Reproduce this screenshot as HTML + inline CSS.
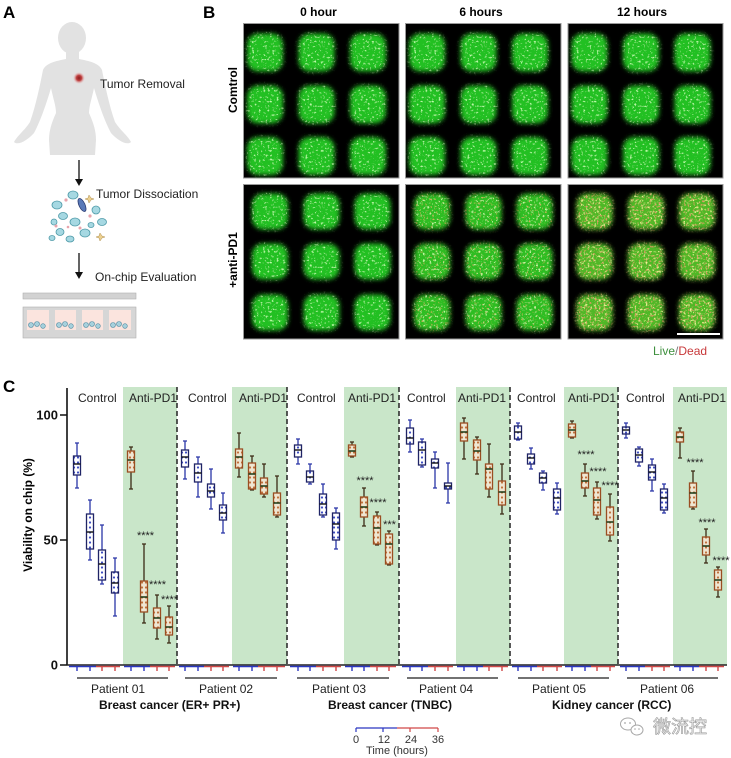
<!DOCTYPE html>
<html><head><meta charset="utf-8">
<style>
html,body{margin:0;padding:0;background:#fff;}
svg{display:block;}
.wc{stroke:#2a36a8;stroke-width:1.3;fill:none}
.bc{stroke:#1f2466;stroke-width:1.3;fill:url(#pb)}
.mc{stroke:#111;stroke-width:1.4}
.wa{stroke:#3b2a14;stroke-width:1.3;fill:none}
.ba{stroke:#9a4e22;stroke-width:1.3;fill:url(#pa)}
.ma{stroke:#183814;stroke-width:1.5}
.t{font-family:"Liberation Sans",sans-serif;}
</style></head>
<body>
<svg width="731" height="758" viewBox="0 0 731 758" xmlns="http://www.w3.org/2000/svg">
<defs>
<pattern id="pb" width="4" height="5" patternUnits="userSpaceOnUse"><rect width="4" height="5" fill="#fff"/><circle cx="2" cy="2.5" r="1.1" fill="#3b4bc0"/></pattern>
<pattern id="pa" width="4" height="5" patternUnits="userSpaceOnUse"><rect width="4" height="5" fill="#efe6d2"/><circle cx="2" cy="2.5" r="1.1" fill="#c0703a"/></pattern>
<radialGradient id="tum"><stop offset="0" stop-color="#8a1f1f"/><stop offset="0.45" stop-color="#c04040"/><stop offset="1" stop-color="#f0c0c0" stop-opacity="0"/></radialGradient>
<filter id="f0" x="-10%" y="-10%" width="120%" height="120%">
<feGaussianBlur in="SourceGraphic" stdDeviation="2.3" result="b"/>
<feTurbulence type="fractalNoise" baseFrequency="0.45" numOctaves="2" seed="2" result="n1"/>
<feColorMatrix in="n1" type="matrix" values="0 0 0 0 0.5  0 0 0 0 1  0 0 0 0 0.4  0 0 0 5 -3.0" result="s1"/>
<feComposite in="s1" in2="b" operator="in" result="c1"/>
<feMerge><feMergeNode in="b"/><feMergeNode in="c1"/></feMerge>
</filter>
<filter id="f1" x="-10%" y="-10%" width="120%" height="120%">
<feGaussianBlur in="SourceGraphic" stdDeviation="2.3" result="b"/>
<feTurbulence type="fractalNoise" baseFrequency="0.45" numOctaves="2" seed="5" result="n1"/>
<feColorMatrix in="n1" type="matrix" values="0 0 0 0 0.6  0 0 0 0 1  0 0 0 0 0.4  0 0 0 5 -3.0" result="s1"/>
<feComposite in="s1" in2="b" operator="in" result="c1"/>
<feTurbulence type="fractalNoise" baseFrequency="0.55" numOctaves="1" seed="9" result="n2"/>
<feColorMatrix in="n2" type="matrix" values="0 0 0 0 0.8  0 0 0 0 0.4  0 0 0 0 0.15  0 0 0 5 -3.1" result="s2"/>
<feComposite in="s2" in2="b" operator="in" result="c2"/>
<feMerge><feMergeNode in="b"/><feMergeNode in="c1"/><feMergeNode in="c2"/></feMerge>
</filter>
<filter id="f2" x="-10%" y="-10%" width="120%" height="120%">
<feGaussianBlur in="SourceGraphic" stdDeviation="2.3" result="b"/>
<feTurbulence type="fractalNoise" baseFrequency="0.45" numOctaves="2" seed="7" result="n1"/>
<feColorMatrix in="n1" type="matrix" values="0 0 0 0 0.85  0 0 0 0 0.95  0 0 0 0 0.3  0 0 0 5 -2.9" result="s1"/>
<feComposite in="s1" in2="b" operator="in" result="c1"/>
<feTurbulence type="fractalNoise" baseFrequency="0.55" numOctaves="1" seed="13" result="n2"/>
<feColorMatrix in="n2" type="matrix" values="0 0 0 0 0.8  0 0 0 0 0.3  0 0 0 0 0.15  0 0 0 5 -2.85" result="s2"/>
<feComposite in="s2" in2="b" operator="in" result="c2"/>
<feMerge><feMergeNode in="b"/><feMergeNode in="c1"/><feMergeNode in="c2"/></feMerge>
</filter>
</defs>

<!-- ===== Panel A ===== -->
<text class="t" x="3" y="18" font-size="17" font-weight="bold">A</text>
<ellipse cx="72" cy="38" rx="14" ry="16" fill="#e2e2e2"/>
<path fill="#e2e2e2" d="M66 50 L66 59 C56 61,46 63,43 70 C40 85,36 105,30 122 C25 130,17 136,14 142 C18 146,28 140,34 133 C40 122,46 105,51 88 C53 98,56 106,56 113 C52 122,49 130,49 140 L50 155 L95 155 L96 140 C96 130,93 122,89 113 C89 106,92 98,94 88 C99 105,105 122,111 133 C117 140,127 146,131 142 C128 136,120 130,115 122 C109 105,105 85,102 70 C99 63,89 61,79 59 L79 50 Z"/>
<circle cx="79" cy="78" r="6" fill="url(#tum)"/>
<text class="t" x="100" y="88" font-size="12" fill="#222">Tumor Removal</text>
<path d="M79 160V181" stroke="#111" stroke-width="1.3"/><path d="M75 179L79 186L83 179Z" fill="#111"/>
<text class="t" x="96" y="198" font-size="12" fill="#222">Tumor Dissociation</text>
<g fill="#a6d8e2" stroke="#4e9aa8" stroke-width="0.8">
<ellipse cx="57" cy="205" rx="5" ry="4"/><ellipse cx="73" cy="195" rx="5" ry="4"/><ellipse cx="63" cy="216" rx="4.5" ry="3.5"/>
<ellipse cx="96" cy="210" rx="4" ry="4"/><ellipse cx="75" cy="222" rx="5" ry="4"/><ellipse cx="60" cy="232" rx="4" ry="3.5"/>
<ellipse cx="85" cy="233" rx="5" ry="4"/><ellipse cx="70" cy="239" rx="4" ry="3"/><ellipse cx="102" cy="222" rx="4.5" ry="3.5"/>
<ellipse cx="54" cy="222" rx="3" ry="3"/><ellipse cx="91" cy="225" rx="3" ry="2.5"/><ellipse cx="52" cy="238" rx="3" ry="2.5"/>
</g>
<ellipse cx="82" cy="205" rx="3" ry="7" fill="#5a7ab8" stroke="#2a3a70" stroke-width="0.8" transform="rotate(-25 82 205)"/>
<g fill="#e8a4ac"><circle cx="66" cy="200" r="1.6"/><circle cx="90" cy="216" r="1.6"/><circle cx="80" cy="228" r="1.5"/><circle cx="56" cy="226" r="1.5"/><circle cx="68" cy="227" r="1.3"/></g>
<g fill="#ecd090" stroke="#b09050" stroke-width="0.5"><path d="M89 195l2 3 3 1-3 1-2 3-1-3-3-1 3-1z"/><path d="M100 233l2 3 3 1-3 1-2 3-1-3-3-1 3-1z"/></g>
<path d="M79 253V274" stroke="#111" stroke-width="1.3"/><path d="M75 272L79 279L83 272Z" fill="#111"/>
<text class="t" x="95" y="281" font-size="12" fill="#222">On-chip Evaluation</text>
<rect x="23" y="293" width="113" height="6" fill="#d2d2d2" stroke="#b0b0b0" stroke-width="0.6"/>
<rect x="23" y="307" width="113" height="31" fill="#d6d6d6" stroke="#b0b0b0" stroke-width="0.6"/>
<g fill="#fbe4de"><rect x="27" y="310" width="22" height="20"/><rect x="55" y="310" width="21" height="20"/><rect x="82" y="310" width="21" height="20"/><rect x="109" y="310" width="22" height="20"/></g>
<g fill="#a6d0dc" stroke="#4e8aa0" stroke-width="0.6">
<circle cx="31" cy="325" r="2.5"/><circle cx="37" cy="324" r="2.5"/><circle cx="43" cy="326" r="2.3"/>
<circle cx="59" cy="325" r="2.5"/><circle cx="65" cy="324" r="2.5"/><circle cx="71" cy="326" r="2.3"/>
<circle cx="86" cy="325" r="2.5"/><circle cx="92" cy="324" r="2.5"/><circle cx="98" cy="326" r="2.3"/>
<circle cx="113" cy="325" r="2.5"/><circle cx="119" cy="324" r="2.5"/><circle cx="125" cy="326" r="2.3"/>
</g>

<!-- ===== Panel B ===== -->
<text class="t" x="203" y="18" font-size="17" font-weight="bold">B</text>
<text class="t" x="318.5" y="16" font-size="12" font-weight="bold" text-anchor="middle">0 hour</text>
<text class="t" x="481" y="16" font-size="12" font-weight="bold" text-anchor="middle">6 hours</text>
<text class="t" x="642" y="16" font-size="12" font-weight="bold" text-anchor="middle">12 hours</text>
<text class="t" font-size="12" font-weight="bold" text-anchor="middle" transform="translate(237 90) rotate(-90)">Comtrol</text>
<text class="t" font-size="12" font-weight="bold" text-anchor="middle" transform="translate(237 260) rotate(-90)">+anti-PD1</text>

<g stroke="#9a9a9a" stroke-width="1" fill="#000">
<rect x="243.5" y="23.5" width="155.5" height="154.5"/>
<rect x="405.5" y="23.5" width="155.5" height="154.5"/>
<rect x="568" y="23.5" width="155" height="154.5"/>
<rect x="243.5" y="184.5" width="155.5" height="154.5"/>
<rect x="405.5" y="184.5" width="155.5" height="154.5"/>
<rect x="568" y="184.5" width="155" height="154.5"/>
</g>
<!-- top row -->
<g fill="#20c020" filter="url(#f0)" transform="translate(243.5 23.5)">
<rect x="3.5" y="10" width="36" height="38" rx="11"/><rect x="55" y="10" width="36" height="38" rx="11"/><rect x="106.5" y="10" width="36" height="38" rx="11"/>
<rect x="3.5" y="62" width="36" height="38" rx="11"/><rect x="55" y="62" width="36" height="38" rx="11"/><rect x="106.5" y="62" width="36" height="38" rx="11"/>
<rect x="3.5" y="113.5" width="36" height="38" rx="11"/><rect x="55" y="113.5" width="36" height="38" rx="11"/><rect x="106.5" y="113.5" width="36" height="38" rx="11"/>
</g>
<g fill="#20c020" filter="url(#f0)" transform="translate(405.5 23.5)">
<rect x="3.5" y="10" width="36" height="38" rx="11"/><rect x="55" y="10" width="36" height="38" rx="11"/><rect x="106.5" y="10" width="36" height="38" rx="11"/>
<rect x="3.5" y="62" width="36" height="38" rx="11"/><rect x="55" y="62" width="36" height="38" rx="11"/><rect x="106.5" y="62" width="36" height="38" rx="11"/>
<rect x="3.5" y="113.5" width="36" height="38" rx="11"/><rect x="55" y="113.5" width="36" height="38" rx="11"/><rect x="106.5" y="113.5" width="36" height="38" rx="11"/>
</g>
<g fill="#20c020" filter="url(#f0)" transform="translate(568 23.5)">
<rect x="3.5" y="10" width="36" height="38" rx="11"/><rect x="55" y="10" width="36" height="38" rx="11"/><rect x="106.5" y="10" width="36" height="38" rx="11"/>
<rect x="3.5" y="62" width="36" height="38" rx="11"/><rect x="55" y="62" width="36" height="38" rx="11"/><rect x="106.5" y="62" width="36" height="38" rx="11"/>
<rect x="3.5" y="113.5" width="36" height="38" rx="11"/><rect x="55" y="113.5" width="36" height="38" rx="11"/><rect x="106.5" y="113.5" width="36" height="38" rx="11"/>
</g>
<!-- bottom row -->
<g fill="#20c020" filter="url(#f0)" transform="translate(243.5 184.5)">
<rect x="8.5" y="9" width="36" height="36" rx="11"/><rect x="60" y="9" width="36" height="36" rx="11"/><rect x="111" y="9" width="36" height="36" rx="11"/>
<rect x="8.5" y="59" width="36" height="36" rx="11"/><rect x="60" y="59" width="36" height="36" rx="11"/><rect x="111" y="59" width="36" height="36" rx="11"/>
<rect x="8.5" y="110" width="36" height="36" rx="11"/><rect x="60" y="110" width="36" height="36" rx="11"/><rect x="111" y="110" width="36" height="36" rx="11"/>
</g>
<g fill="#2ebd22" filter="url(#f1)" transform="translate(405.5 184.5)">
<rect x="8.5" y="9" width="36" height="36" rx="11"/><rect x="60" y="9" width="36" height="36" rx="11"/><rect x="111" y="9" width="36" height="36" rx="11"/>
<rect x="8.5" y="59" width="36" height="36" rx="11"/><rect x="60" y="59" width="36" height="36" rx="11"/><rect x="111" y="59" width="36" height="36" rx="11"/>
<rect x="8.5" y="110" width="36" height="36" rx="11"/><rect x="60" y="110" width="36" height="36" rx="11"/><rect x="111" y="110" width="36" height="36" rx="11"/>
</g>
<g fill="#4fb828" filter="url(#f2)" transform="translate(568 184.5)">
<rect x="8.5" y="9" width="36" height="36" rx="11"/><rect x="60" y="9" width="36" height="36" rx="11"/><rect x="111" y="9" width="36" height="36" rx="11"/>
<rect x="8.5" y="59" width="36" height="36" rx="11"/><rect x="60" y="59" width="36" height="36" rx="11"/><rect x="111" y="59" width="36" height="36" rx="11"/>
<rect x="8.5" y="110" width="36" height="36" rx="11"/><rect x="60" y="110" width="36" height="36" rx="11"/><rect x="111" y="110" width="36" height="36" rx="11"/>
</g>
<path d="M677 334H720" stroke="#fff" stroke-width="2"/>
<text class="t" x="653" y="355" font-size="12"><tspan fill="#3d8f3d">Live</tspan><tspan fill="#777">/</tspan><tspan fill="#c8383a">Dead</tspan></text>

<!-- ===== Panel C ===== -->
<text class="t" x="3" y="392" font-size="17" font-weight="bold">C</text>
<g fill="#c9e6c9">
<rect x="123" y="387" width="54" height="278"/><rect x="232" y="387" width="55" height="278"/>
<rect x="344" y="387" width="55" height="278"/><rect x="456" y="387" width="54" height="278"/>
<rect x="564" y="387" width="54" height="278"/><rect x="673" y="387" width="54" height="278"/>
</g>
<g stroke="#222" stroke-width="1.5" stroke-dasharray="5 3">
<path d="M177 387V665M287 387V665M399 387V665M510 387V665M618 387V665"/>
</g>
<g class="t" font-size="12" fill="#222">
<text x="78" y="402">Control</text><text x="129" y="402">Anti-PD1</text>
<text x="188" y="402">Control</text><text x="239" y="402">Anti-PD1</text>
<text x="297" y="402">Control</text><text x="348" y="402">Anti-PD1</text>
<text x="407" y="402">Control</text><text x="458" y="402">Anti-PD1</text>
<text x="517" y="402">Control</text><text x="568" y="402">Anti-PD1</text>
<text x="626" y="402">Control</text><text x="678" y="402">Anti-PD1</text>
</g>
<!-- axes -->
<path d="M67 388V665.5M60 415H67M60 540H67M60 665H67" stroke="#111" stroke-width="1.6" fill="none"/>
<g class="t" font-size="13" font-weight="bold" text-anchor="end" fill="#111">
<text x="58" y="419.5">100</text><text x="58" y="544.5">50</text><text x="58" y="669.5">0</text>
</g>
<text class="t" font-size="12" font-weight="bold" text-anchor="middle" transform="translate(32 515) rotate(-90)">Viability on chip (%)</text>
<path d="M67 665H727" stroke="#222" stroke-width="1.6"/>
<!-- colored tick segments -->
<g stroke-width="1.4" fill="none">
<path stroke="#2a36c0" d="M69 666.5H96M77 666V671M90 666V671 M124 666.5H150M131 666V671M144 666V671 M179 666.5H204M185 666V671M198 666V671 M233 666.5H258M239 666V671M252 666V671 M290 666.5H316M298 666V671M310 666V671 M345 666.5H370M352 666V671M364 666V671 M402 666.5H428M410 666V671M422 666V671 M457 666.5H483M464 666V671M477 666V671 M512 666.5H537M518 666V671M531 666V671 M565 666.5H591M572 666V671M585 666V671 M620 666.5H645M626 666V671M639 666V671 M674 666.5H699M680 666V671M693 666V671"/>
<path stroke="#d04848" d="M96 666.5H120M102 666V671M115 666V671 M150 666.5H175M157 666V671M169 666V671 M204 666.5H229M211 666V671M223 666V671 M258 666.5H285M264 666V671M277 666V671 M316 666.5H341M323 666V671M336 666V671 M370 666.5H396M377 666V671M389 666V671 M428 666.5H453M435 666V671M448 666V671 M483 666.5H508M489 666V671M502 666V671 M537 666.5H562M543 666V671M557 666V671 M591 666.5H615M597 666V671M610 666V671 M645 666.5H670M652 666V671M664 666V671 M699 666.5H724M706 666V671M718 666V671"/>
</g>

<!-- Boxes P1 -->
<path class="wc" d="M77 443V488M75 443h4M75 488h4"/><rect class="bc" x="73.5" y="456" width="7" height="19"/><path class="mc" d="M73.5 464h7"/>
<path class="wc" d="M90 500V560M88 500h4M88 560h4"/><rect class="bc" x="86.5" y="514" width="7" height="35"/><path class="mc" d="M86.5 532h7"/>
<path class="wc" d="M102 525V584M100 525h4M100 584h4"/><rect class="bc" x="98.5" y="550" width="7" height="30"/><path class="mc" d="M98.5 564h7"/>
<path class="wc" d="M115 558V616M113 558h4M113 616h4"/><rect class="bc" x="111.5" y="572" width="7" height="21"/><path class="mc" d="M111.5 583h7"/>
<path class="wa" d="M131 447V489M129 447h4M129 489h4"/><rect class="ba" x="127.5" y="451" width="7" height="21"/><path class="ma" d="M127.5 460h7"/>
<path class="wa" d="M144 544V623M142 544h4M142 623h4"/><rect class="ba" x="140.5" y="581" width="7" height="31"/><path class="ma" d="M140.5 597h7"/>
<path class="wa" d="M157 595V639M155 595h4M155 639h4"/><rect class="ba" x="153.5" y="608" width="7" height="20"/><path class="ma" d="M153.5 618h7"/>
<path class="wa" d="M169 606V643M167 606h4M167 643h4"/><rect class="ba" x="165.5" y="617" width="7" height="18"/><path class="ma" d="M165.5 627h7"/>
<!-- P2 -->
<path class="wc" d="M185 441V479M183 441h4M183 479h4"/><rect class="bc" x="181.5" y="450" width="7" height="17"/><path class="mc" d="M181.5 457h7"/>
<path class="wc" d="M198 457V497M196 457h4M196 497h4"/><rect class="bc" x="194.5" y="464" width="7" height="18"/><path class="mc" d="M194.5 473h7"/>
<path class="wc" d="M211 469V509M209 469h4M209 509h4"/><rect class="bc" x="207.5" y="484" width="7" height="13"/><path class="mc" d="M207.5 491h7"/>
<path class="wc" d="M223 493V533M221 493h4M221 533h4"/><rect class="bc" x="219.5" y="505" width="7" height="15"/><path class="mc" d="M219.5 513h7"/>
<path class="wa" d="M239 433V477M237 433h4M237 477h4"/><rect class="ba" x="235.5" y="449" width="7" height="19"/><path class="ma" d="M235.5 457h7"/>
<path class="wa" d="M252 456V490M250 456h4M250 490h4"/><rect class="ba" x="248.5" y="463" width="7" height="26"/><path class="ma" d="M248.5 474h7"/>
<path class="wa" d="M264 464V497M262 464h4M262 497h4"/><rect class="ba" x="260.5" y="478" width="7" height="16"/><path class="ma" d="M260.5 486h7"/>
<path class="wa" d="M277 476V517M275 476h4M275 517h4"/><rect class="ba" x="273.5" y="493" width="7" height="22"/><path class="ma" d="M273.5 503h7"/>
<!-- P3 -->
<path class="wc" d="M298 439V464M296 439h4M296 464h4"/><rect class="bc" x="294.5" y="445" width="7" height="12"/><path class="mc" d="M294.5 450h7"/>
<path class="wc" d="M310 464V484M308 464h4M308 484h4"/><rect class="bc" x="306.5" y="471" width="7" height="11"/><path class="mc" d="M306.5 477h7"/>
<path class="wc" d="M323 484V517M321 484h4M321 517h4"/><rect class="bc" x="319.5" y="494" width="7" height="21"/><path class="mc" d="M319.5 504h7"/>
<path class="wc" d="M336 508V549M334 508h4M334 549h4"/><rect class="bc" x="332.5" y="513" width="7" height="27"/><path class="mc" d="M332.5 524h7"/>
<path class="wa" d="M352 442V457M350 442h4M350 457h4"/><rect class="ba" x="348.5" y="445" width="7" height="11"/><path class="ma" d="M348.5 451h7"/>
<path class="wa" d="M364 488V526M362 488h4M362 526h4"/><rect class="ba" x="360.5" y="497" width="7" height="20"/><path class="ma" d="M360.5 507h7"/>
<path class="wa" d="M377 512V545M375 512h4M375 545h4"/><rect class="ba" x="373.5" y="516" width="7" height="28"/><path class="ma" d="M373.5 528h7"/>
<path class="wa" d="M389 531V565M387 531h4M387 565h4"/><rect class="ba" x="385.5" y="534" width="7" height="30"/><path class="ma" d="M385.5 544h7"/>
<!-- P4 -->
<path class="wc" d="M410 420V452M408 420h4M408 452h4"/><rect class="bc" x="406.5" y="428" width="7" height="16"/><path class="mc" d="M406.5 438h7"/>
<path class="wc" d="M422 439V467M420 439h4M420 467h4"/><rect class="bc" x="418.5" y="442" width="7" height="23"/><path class="mc" d="M418.5 450h7"/>
<path class="wc" d="M435 452V488M433 452h4M433 488h4"/><rect class="bc" x="431.5" y="459" width="7" height="9"/><path class="mc" d="M431.5 463h7"/>
<path class="wc" d="M448 463V503M446 463h4M446 503h4"/><rect class="bc" x="444.5" y="483" width="7" height="6"/><path class="mc" d="M444.5 486h7"/>
<path class="wa" d="M464 418V459M462 418h4M462 459h4"/><rect class="ba" x="460.5" y="423" width="7" height="18"/><path class="ma" d="M460.5 432h7"/>
<path class="wa" d="M477 437V474M475 437h4M475 474h4"/><rect class="ba" x="473.5" y="440" width="7" height="20"/><path class="ma" d="M473.5 451h7"/>
<path class="wa" d="M489 444V497M487 444h4M487 497h4"/><rect class="ba" x="485.5" y="464" width="7" height="25"/><path class="ma" d="M485.5 469h7"/>
<path class="wa" d="M502 464V514M500 464h4M500 514h4"/><rect class="ba" x="498.5" y="481" width="7" height="24"/><path class="ma" d="M498.5 492h7"/>
<!-- P5 -->
<path class="wc" d="M518 423V440M516 423h4M516 440h4"/><rect class="bc" x="514.5" y="426" width="7" height="13"/><path class="mc" d="M514.5 432h7"/>
<path class="wc" d="M531 448V469M529 448h4M529 469h4"/><rect class="bc" x="527.5" y="454" width="7" height="10"/><path class="mc" d="M527.5 458h7"/>
<path class="wc" d="M543 471V490M541 471h4M541 490h4"/><rect class="bc" x="539.5" y="473" width="7" height="10"/><path class="mc" d="M539.5 478h7"/>
<path class="wc" d="M557 483V514M555 483h4M555 514h4"/><rect class="bc" x="553.5" y="489" width="7" height="21"/><path class="mc" d="M553.5 498h7"/>
<path class="wa" d="M572 421V438M570 421h4M570 438h4"/><rect class="ba" x="568.5" y="424" width="7" height="13"/><path class="ma" d="M568.5 430h7"/>
<path class="wa" d="M585 464V496M583 464h4M583 496h4"/><rect class="ba" x="581.5" y="473" width="7" height="15"/><path class="ma" d="M581.5 481h7"/>
<path class="wa" d="M597 482V519M595 482h4M595 519h4"/><rect class="ba" x="593.5" y="488" width="7" height="27"/><path class="ma" d="M593.5 500h7"/>
<path class="wa" d="M610 494V541M608 494h4M608 541h4"/><rect class="ba" x="606.5" y="507" width="7" height="28"/><path class="ma" d="M606.5 522h7"/>
<!-- P6 -->
<path class="wc" d="M626 423V438M624 423h4M624 438h4"/><rect class="bc" x="622.5" y="427" width="7" height="7"/><path class="mc" d="M622.5 430h7"/>
<path class="wc" d="M639 447V466M637 447h4M637 466h4"/><rect class="bc" x="635.5" y="449" width="7" height="13"/><path class="mc" d="M635.5 455h7"/>
<path class="wc" d="M652 459V491M650 459h4M650 491h4"/><rect class="bc" x="648.5" y="465" width="7" height="15"/><path class="mc" d="M648.5 472h7"/>
<path class="wc" d="M664 484V513M662 484h4M662 513h4"/><rect class="bc" x="660.5" y="489" width="7" height="21"/><path class="mc" d="M660.5 498h7"/>
<path class="wa" d="M680 428V458M678 428h4M678 458h4"/><rect class="ba" x="676.5" y="432" width="7" height="10"/><path class="ma" d="M676.5 437h7"/>
<path class="wa" d="M693 471V509M691 471h4M691 509h4"/><rect class="ba" x="689.5" y="483" width="7" height="24"/><path class="ma" d="M689.5 493h7"/>
<path class="wa" d="M706 529V563M704 529h4M704 563h4"/><rect class="ba" x="702.5" y="537" width="7" height="18"/><path class="ma" d="M702.5 546h7"/>
<path class="wa" d="M718 567V597M716 567h4M716 597h4"/><rect class="ba" x="714.5" y="570" width="7" height="20"/><path class="ma" d="M714.5 580h7"/>

<!-- significance -->
<g class="t" font-size="11" fill="#222" text-anchor="middle">
<text x="145.5" y="539">****</text><text x="157.5" y="588">****</text><text x="169.5" y="603">****</text>
<text x="365" y="484">****</text><text x="378" y="506">****</text><text x="389.5" y="528">***</text>
<text x="586" y="458">****</text><text x="598" y="475">****</text><text x="610" y="489">****</text>
<text x="695" y="466">****</text><text x="707" y="526">****</text><text x="721" y="564">****</text>
</g>

<!-- patient brackets -->
<path d="M77 678H168M185 678H277M297 678H389M407 678H498M518 678H609M627 678H718" stroke="#444" stroke-width="1.5"/>
<g class="t" font-size="12" fill="#222">
<text x="91" y="693">Patient 01</text><text x="199" y="693">Patient 02</text><text x="312" y="693">Patient 03</text>
<text x="419" y="693">Patient 04</text><text x="532" y="693">Patient 05</text><text x="640" y="693">Patient 06</text>
</g>
<g class="t" font-size="12" font-weight="bold" fill="#111">
<text x="99" y="709">Breast cancer (ER+ PR+)</text>
<text x="328" y="709">Breast cancer (TNBC)</text>
<text x="552" y="709">Kidney cancer (RCC)</text>
</g>

<!-- time legend -->
<path d="M356 728H397M356 728V732M383 728V732" stroke="#2a36c0" stroke-width="1.2" fill="none"/>
<path d="M397 728H438M410 728V732M438 728V732" stroke="#d04848" stroke-width="1.2" fill="none"/>
<g class="t" font-size="11" fill="#333" text-anchor="middle">
<text x="356" y="743">0</text><text x="384" y="743">12</text><text x="411" y="743">24</text><text x="438" y="743">36</text>
<text x="397" y="754">Time (hours)</text>
</g>

<!-- watermark -->
<g fill="#fff" stroke="#a8a8a8" stroke-width="1">
<ellipse cx="628" cy="724" rx="7.5" ry="6"/>
<ellipse cx="637" cy="730" rx="6" ry="5"/>
</g>
<g fill="#a8a8a8"><circle cx="625" cy="723" r="0.9"/><circle cx="630" cy="723" r="0.9"/><circle cx="635" cy="729" r="0.8"/><circle cx="639" cy="729" r="0.8"/></g>
<text x="653" y="733" font-size="18" font-family="'Liberation Sans','Noto Sans CJK SC',sans-serif" fill="#f2f2f2" stroke="#9a9a9a" stroke-width="0.6">微流控</text>
</svg>
</body></html>
